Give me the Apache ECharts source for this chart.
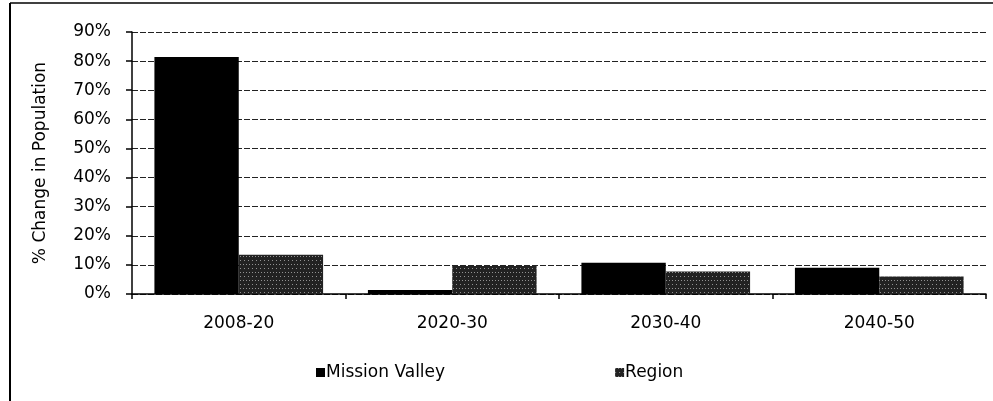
<!DOCTYPE html>
<html><head><meta charset="utf-8">
<script src="https://cdn.jsdelivr.net/npm/echarts@6/dist/echarts.min.js"></script>
<style>html,body{margin:0;padding:0;background:#fff}#c{width:993px;height:401px}</style>
</head><body><div id="c"></div>
<script>
const categories = ['2008-20', '2020-30', '2030-40', '2040-50'];
const missionValley = [81.4, 1.4, 10.7, 9];
const region = [13.5, 9.6, 7.7, 6];
const seriesNames = ['Mission Valley', 'Region'];

const chart = echarts.init(document.getElementById('c'), null, {renderer: 'canvas'});
const font = '"DejaVu Sans", sans-serif';
chart.setOption({
  animation: false,
  backgroundColor: '#fff',
  aria: {enabled: false},
  grid: {left: 132, right: 7, top: 32, bottom: 107},
  legend: {
    data: seriesNames,
    left: 311, top: 359,
    itemWidth: 9, itemHeight: 9, itemGap: 170,
    icon: 'rect',
    textStyle: {fontFamily: font, fontSize: 17, color: '#000', padding: [0,0,0,-4]}
  },
  xAxis: {
    type: 'category', data: categories,
    axisLine: {lineStyle: {color: '#000', width: 1.5}},
    axisTick: {show: true, length: 5, lineStyle: {color: '#000', width: 1.5}},
    axisLabel: {fontFamily: font, fontSize: 17, color: '#000', margin: 21}
  },
  yAxis: {
    type: 'value', min: 0, max: 90, interval: 10,
    name: '% Change in Population', nameLocation: 'middle', nameGap: 83,
    nameTextStyle: {fontFamily: font, fontSize: 17, color: '#000'},
    axisLine: {show: true, lineStyle: {color: '#000', width: 1.5}},
    axisTick: {show: true, length: 6, lineStyle: {color: '#000', width: 1.5}},
    axisLabel: {fontFamily: font, fontSize: 17, color: '#000', margin: 21, formatter: v => v + '%'},
    splitLine: {lineStyle: {color: '#222', width: 1.2, type: [6, 2]}}
  },
  series: [
    {name: seriesNames[0], type: 'bar', data: missionValley, barGap: '0%', barCategoryGap: '21%',
     itemStyle: {color: '#000'}},
    {name: seriesNames[1], type: 'bar', data: region,
     itemStyle: {color: '#222', decal: {symbol: 'rect', symbolSize: 1, color: 'rgba(255,255,255,0.5)', dashArrayX: [[1, 3], [1, 2]], dashArrayY: [1, 3], rotation: 0}}}
  ],
  graphic: [
    {type: 'line', shape: {x1: 10, y1: 3, x2: 10, y2: 401}, style: {stroke: '#000', lineWidth: 2}},
    {type: 'line', shape: {x1: 10, y1: 3, x2: 993, y2: 3}, style: {stroke: '#000', lineWidth: 1.5}}
  ]
});
</script></body></html>
